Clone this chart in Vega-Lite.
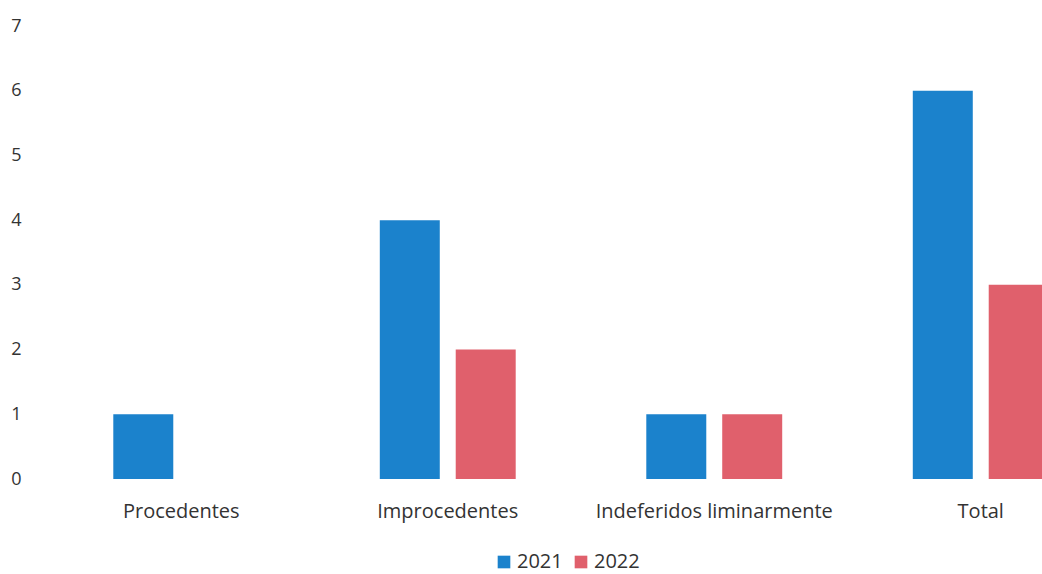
{
  "$schema": "https://vega.github.io/schema/vega-lite/v6.json",
  "autosize": "none",
  "width": 995,
  "height": 453,
  "padding": {"left": 47, "top": 26, "right": 0, "bottom": 95},
  "background": "white",
  "config": {"view": {"stroke": null}, "font": "Open Sans"},
  "data": {"values": [
    {"categoria": "Procedentes", "ano": "2021", "valor": 1},
    {"categoria": "Procedentes", "ano": "2022", "valor": 0},
    {"categoria": "Improcedentes", "ano": "2021", "valor": 4},
    {"categoria": "Improcedentes", "ano": "2022", "valor": 2},
    {"categoria": "Indeferidos liminarmente", "ano": "2021", "valor": 1},
    {"categoria": "Indeferidos liminarmente", "ano": "2022", "valor": 1},
    {"categoria": "Total", "ano": "2021", "valor": 6},
    {"categoria": "Total", "ano": "2022", "valor": 3}
  ]},
  "mark": {"type": "bar"},
  "encoding": {
    "x": {"field": "categoria", "type": "nominal", "sort": null,
      "scale": {"range": [1, 1067], "paddingInner": 0, "paddingOuter": 0},
      "axis": {"title": null, "labelAngle": 0, "domain": false, "ticks": false, "labelPadding": 22, "labelFontSize": 20, "labelLimit": 0, "labelColor": "#333333"}},
    "xOffset": {"field": "ano", "type": "nominal", "scale": {"paddingInner": 0.21, "paddingOuter": 0.86}},
    "y": {"field": "valor", "type": "quantitative",
      "scale": {"domain": [0, 7], "nice": false},
      "axis": {"title": null, "values": [0,1,2,3,4,5,6,7], "grid": false, "domain": false, "ticks": false, "labelPadding": 26, "labelFontSize": 18, "labelColor": "#333333"}},
    "color": {"field": "ano", "type": "nominal",
      "scale": {"domain": ["2021", "2022"], "range": ["#1b82cc", "#e0606c"]},
      "legend": {"title": null, "orient": "none", "direction": "horizontal", "legendX": 447, "legendY": 526, "symbolType": "square", "symbolSize": 160, "labelFontSize": 20, "labelColor": "#333333", "labelOffset": 3, "columnPadding": 8, "symbolStrokeWidth": 0}}
  }
}
